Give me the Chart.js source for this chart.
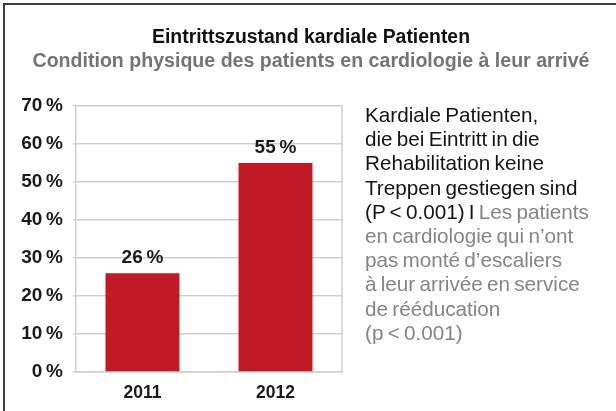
<!DOCTYPE html>
<html>
<head>
<meta charset="utf-8">
<script src="https://cdn.jsdelivr.net/npm/chart.js@4"></script>
<style>
  body { margin: 0; background: #fff; }
  #wrap { position: relative; width: 616px; height: 411px; }
  #side {
    position: absolute; left: 365px; top: 103px; width: 250px;
    font-family: "Liberation Sans", Arial, sans-serif; font-size: 20.7px;
    line-height: 24.2px; word-spacing: -1.5px; color: #141414; white-space: nowrap;
  }
  #side .fr { color: #858585; }
</style>
</head>
<body>
<div id="wrap">
  <canvas id="myChart" width="616" height="411"></canvas>
  <div id="side">Kardiale Patienten,<br>die bei Eintritt in die<br>Rehabilitation keine<br>Treppen gestiegen sind<br>(P &lt; 0.001) I <span class="fr">Les patients<br>en cardiologie qui n’ont<br>pas monté d’escaliers<br>à leur arrivée en service<br>de rééducation<br>(p &lt; 0.001)</span></div>
</div>
<script>
// Daten
const years = ['2011', '2012'];
const patientsNoStairs = [26, 55];
const yTicks = [0, 10, 20, 30, 40, 50, 60, 70];
const titleDe = 'Eintrittszustand kardiale Patienten';
const titleFr = 'Condition physique des patients en cardiologie à leur arrivé';

const pct = v => v + '\u2009%';

// Rahmen oben/links, Titel und rechte Begrenzung der Grafik
const framePlugin = {
  id: 'frame',
  beforeDraw(chart) {
    const ctx = chart.ctx;
    const a = chart.chartArea;
    ctx.save();
    ctx.strokeStyle = '#3c3c3c';
    ctx.lineWidth = 2;
    ctx.beginPath();
    ctx.moveTo(4, 411);
    ctx.lineTo(4, 4);
    ctx.lineTo(616, 4);
    ctx.stroke();

    ctx.textAlign = 'center';
    ctx.textBaseline = 'middle';
    ctx.font = 'bold 20px "Liberation Sans", Arial, sans-serif';
    ctx.fillStyle = '#111';
    ctx.fillText(titleDe, 311, 37, 318);
    ctx.fillStyle = '#747474';
    ctx.fillText(titleFr, 311, 61, 557);

    ctx.strokeStyle = '#cfcfcf';
    ctx.lineWidth = 1.5;
    ctx.beginPath();
    ctx.moveTo(a.right, a.top);
    ctx.lineTo(a.right, a.bottom);
    ctx.stroke();
    ctx.restore();
  }
};

// Werte über den Balken
const valueLabels = {
  id: 'valueLabels',
  afterDatasetsDraw(chart) {
    const ctx = chart.ctx;
    ctx.save();
    ctx.font = '600 19px "Liberation Sans", Arial, sans-serif';
    ctx.fillStyle = '#1a1a1a';
    ctx.textAlign = 'center';
    ctx.textBaseline = 'middle';
    chart.getDatasetMeta(0).data.forEach((bar, i) => {
      ctx.fillText(pct(patientsNoStairs[i]), bar.x, bar.y - 15);
    });
    ctx.restore();
  }
};

let ctx = document.getElementById('myChart');
let chart = new Chart(ctx, {
  type: 'bar',
  data: {
    labels: years,
    datasets: [{
      data: patientsNoStairs,
      backgroundColor: '#c01b24',
      barPercentage: 0.556,
      categoryPercentage: 1
    }]
  },
  options: {
    responsive: false,
    animation: false,
    layout: { padding: { top: 106, left: 0, right: 274, bottom: 8 } },
    plugins: {
      legend: { display: false },
      tooltip: { enabled: false }
    },
    scales: {
      x: {
        afterFit(scale) { scale.height = 31; },
        grid: { display: false, drawTicks: false },
        border: { color: '#cfcfcf', width: 1.5 },
        ticks: {
          color: '#1a1a1a',
          padding: 11,
          font: { family: '"Liberation Sans", Arial', size: 17.5, weight: '600' }
        }
      },
      y: {
        min: 0,
        max: 70,
        afterBuildTicks(scale) {
          scale.ticks = yTicks.map(v => ({ value: v }));
        },
        afterFit(scale) { scale.width = 76; },
        grid: { color: '#cfcfcf', lineWidth: 1.5, tickLength: 3 },
        border: { color: '#cfcfcf', width: 1.5 },
        ticks: {
          color: '#1a1a1a',
          padding: 10,
          font: { family: '"Liberation Sans", Arial', size: 19, weight: '600' },
          callback: v => pct(v)
        }
      }
    }
  },
  plugins: [framePlugin, valueLabels]
});
</script>
</body>
</html>
